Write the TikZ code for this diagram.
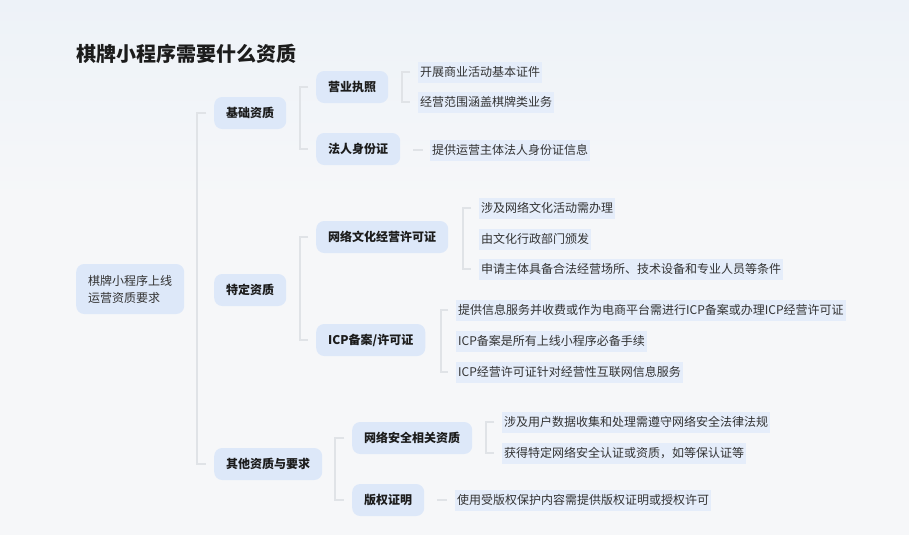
\documentclass[tikz,border=0pt]{standalone}
\usepackage{fontspec}
\setmainfont{Noto Sans CJK SC}
\usetikzlibrary{calc}
\definecolor{bgc}{HTML}{F6F7F9}
\definecolor{bgtop}{HTML}{EDF2F8}
\definecolor{nodefill}{HTML}{DDE8F9}
\definecolor{leaffill}{HTML}{E5EDFA}
\definecolor{linec}{HTML}{E0E3E7}
\definecolor{txt}{HTML}{1C1C1C}
\definecolor{leaftxt}{HTML}{333333}
\begin{document}
\begin{tikzpicture}[x=1pt,y=-1pt,
  rootbox/.style={fill=nodefill,rounded corners=8pt,inner xsep=12pt,inner ysep=0pt,minimum height=50pt,anchor=west,align=left,text=leaftxt,font=\fontsize{12}{17}\selectfont},
  catbox/.style={fill=nodefill,rounded corners=8pt,inner xsep=12pt,inner ysep=0pt,minimum height=32pt,anchor=west,text=txt,font=\fontsize{12}{14}\selectfont\bfseries},
  leafbox/.style={fill=leaffill,inner xsep=2pt,inner ysep=0pt,minimum height=21pt,anchor=west,text=leaftxt,font=\fontsize{12}{14}\selectfont},
  conn/.style={draw=linec,line width=1.2pt},
  mainconn/.style={draw=linec,line width=2pt}]
\useasboundingbox (0,0) rectangle (909,535);
\fill[bgc] (0,0) rectangle (909,535);
\shade[top color=bgtop,bottom color=bgc] (0,0) rectangle (909,200);

\node[anchor=west,inner sep=0pt,text=txt,font=\fontsize{20}{24}\selectfont\bfseries] (title) at (76,54) {棋牌小程序需要什么资质};

\node[rootbox] (root) at (76,289) {棋牌小程序上线\\运营资质要求};

\node[catbox] (b1) at (214,113) {基础资质};
\node[catbox] (b2) at (214,290) {特定资质};
\node[catbox] (b3) at (214,464) {其他资质与要求};

\node[catbox] (c11) at (316,87) {营业执照};
\node[catbox] (c12) at (316,149) {法人身份证};
\node[catbox] (c21) at (316,237) {网络文化经营许可证};
\node[catbox] (c22) at (316,340) {ICP备案/许可证};
\node[catbox] (c31) at (352,438) {网络安全相关资质};
\node[catbox] (c32) at (352,500) {版权证明};

\node[leafbox] (l111) at (418,72) {开展商业活动基本证件};
\node[leafbox] (l112) at (418,102) {经营范围涵盖棋牌类业务};
\node[leafbox] (l121) at (430,150) {提供运营主体法人身份证信息};
\node[leafbox] (l211) at (479,208) {涉及网络文化活动需办理};
\node[leafbox] (l212) at (479,239) {由文化行政部门颁发};
\node[leafbox] (l213) at (479,269) {申请主体具备合法经营场所、技术设备和专业人员等条件};
\node[leafbox] (l221) at (456,310) {提供信息服务并收费或作为电商平台需进行ICP备案或办理ICP经营许可证};
\node[leafbox] (l222) at (456,341) {ICP备案是所有上线小程序必备手续};
\node[leafbox] (l223) at (456,372) {ICP经营许可证针对经营性互联网信息服务};
\node[leafbox] (l311) at (502,422) {涉及用户数据收集和处理需遵守网络安全法律法规};
\node[leafbox] (l312) at (502,453) {获得特定网络安全认证或资质，如等保认证等};
\node[leafbox] (l321) at (455,500) {使用受版权保护内容需提供版权证明或授权许可};

% level 1
\draw[mainconn] ([xshift=-8pt]b1.west) -- ([xshift=-17pt]b1.west) -- ([xshift=-17pt]b3.west) -- ([xshift=-8pt]b3.west);
% level 2
\draw[conn] ([xshift=-8pt]c11.west) -- ([xshift=-16pt]c11.west) -- ([xshift=-16pt]c12.west) -- ([xshift=-8pt]c12.west);
\draw[conn] ([xshift=-8pt]c21.west) -- ([xshift=-16pt]c21.west) -- ([xshift=-16pt]c22.west) -- ([xshift=-8pt]c22.west);
\draw[conn] ([xshift=-8pt]c31.west) -- ([xshift=-17pt]c31.west) -- ([xshift=-17pt]c32.west) -- ([xshift=-8pt]c32.west);
% leaves
\draw[conn] ([xshift=-8pt]l111.west) -- ([xshift=-16pt]l111.west) -- ([xshift=-16pt]l112.west) -- ([xshift=-8pt]l112.west);
\draw[conn] ([xshift=-17pt]l121.west) -- ([xshift=-7pt]l121.west);
\draw[conn] ([xshift=-8pt]l211.west) -- ([xshift=-16pt]l211.west) -- ([xshift=-16pt]l213.west) -- ([xshift=-8pt]l213.west);
\draw[conn] ([xshift=-8pt]l221.west) -- ([xshift=-15pt]l221.west) -- ([xshift=-15pt]l223.west) -- ([xshift=-8pt]l223.west);
\draw[conn] ([xshift=-8pt]l311.west) -- ([xshift=-16pt]l311.west) -- ([xshift=-16pt]l312.west) -- ([xshift=-8pt]l312.west);
\draw[conn] ([xshift=-18pt]l321.west) -- ([xshift=-8pt]l321.west);
\end{tikzpicture}
\end{document}
